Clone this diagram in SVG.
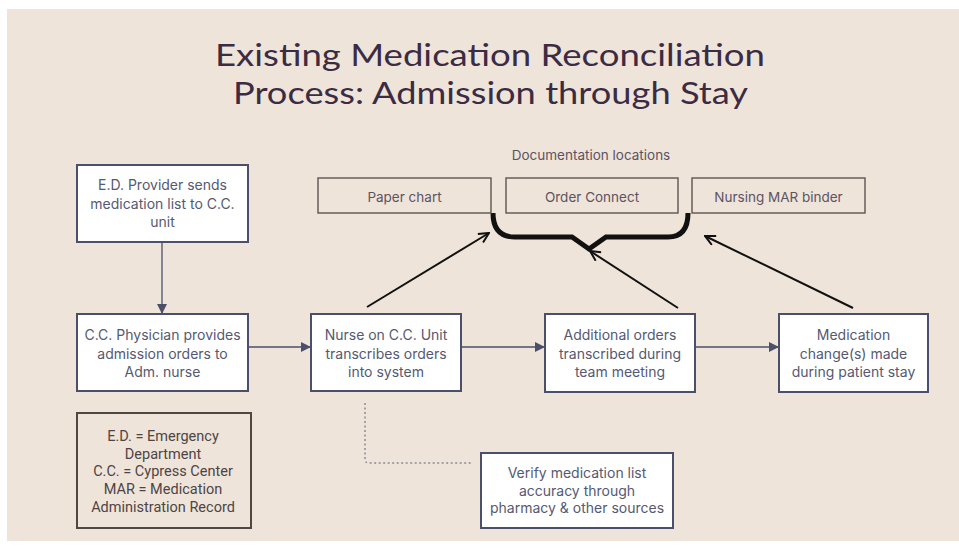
<svg xmlns="http://www.w3.org/2000/svg" width="959" height="548" viewBox="0 0 959 548">
<defs>
<style>
.bg{fill:#efe4d9}
.node{fill:#ffffff;stroke:#4b4f6b;stroke-width:2}
.doc{fill:none;stroke:#5e5552;stroke-width:1.4}
.legend{fill:none;stroke:#4f4742;stroke-width:2}
.t{font-family:Inter,"Liberation Sans",sans-serif;font-size:14px;fill:#555971;text-anchor:middle}
.td{font-family:Inter,"Liberation Sans",sans-serif;font-size:13.5px;fill:#5c5363;text-anchor:middle}
.tl{font-family:Roboto,"Liberation Sans",sans-serif;font-size:14.5px;fill:#4d4446;text-anchor:middle}
.title{font-family:Lato,"Liberation Sans",sans-serif;font-size:31px;fill:#3b2c43;text-anchor:middle}
.flow{fill:none;stroke:#4b4f6b;stroke-width:1.3}
.blk{fill:none;stroke:#111111;stroke-width:2}
</style>
<marker id="ah" viewBox="0 0 10 10" refX="9" refY="5" markerWidth="10" markerHeight="10" markerUnits="userSpaceOnUse" orient="auto">
<path d="M0,0 L10,5 L0,10 z" fill="#4b4f6b"/>
</marker>
<marker id="ob" viewBox="0 0 12 12" refX="11" refY="6" markerWidth="12" markerHeight="12" markerUnits="userSpaceOnUse" orient="auto">
<path d="M1,1 L11,6 L1,11" fill="none" stroke="#111111" stroke-width="2"/>
</marker>
</defs>
<rect x="0" y="0" width="959" height="548" fill="#ffffff"/>
<rect class="bg" x="7" y="9" width="952" height="532"/>
<g id="title">
<text class="title" x="490" y="66" textLength="550" lengthAdjust="spacingAndGlyphs">Existing Medication Reconciliation</text>
<text class="title" x="490.5" y="104" textLength="515" lengthAdjust="spacingAndGlyphs">Process: Admission through Stay</text>
</g>
<g id="connectors">
<line class="flow" x1="162" y1="242" x2="162" y2="313" marker-end="url(#ah)"/>
<line class="flow" x1="248" y1="347" x2="310" y2="347" marker-end="url(#ah)"/>
<line class="flow" x1="461" y1="347" x2="544" y2="347" marker-end="url(#ah)"/>
<line class="flow" x1="695" y1="347" x2="778" y2="347" marker-end="url(#ah)"/>
<line class="blk" x1="367" y1="307" x2="489" y2="233" marker-end="url(#ob)"/>
<line class="blk" x1="678" y1="308" x2="590" y2="251" marker-end="url(#ob)"/>
<line class="blk" x1="853" y1="308" x2="705" y2="236" marker-end="url(#ob)"/>
<path d="M365,403 V459 Q365,463 369,463 H471" fill="none" stroke="#8a8b97" stroke-width="1.5" stroke-dasharray="2,2.5"/>
</g>
<g id="brace">
<path d="M493,213 Q493,237 515,237 H572 L589,249 L606,237 H668 Q688,237 688,213" fill="none" stroke="#111111" stroke-width="5" stroke-linejoin="miter"/>
</g>
<g id="doc-label">
<text class="td" x="591" y="160">Documentation  locations</text>
</g>
<g id="doc-paper">
<rect class="doc" x="318" y="178" width="173" height="35"/>
<text class="td" x="404.5" y="202">Paper chart</text>
</g>
<g id="doc-order">
<rect class="doc" x="506" y="178" width="172" height="35"/>
<text class="td" x="592" y="202">Order Connect</text>
</g>
<g id="doc-mar">
<rect class="doc" x="692" y="178" width="173" height="35"/>
<text class="td" x="778.5" y="202">Nursing MAR binder</text>
</g>
<g id="node-ed">
<rect class="node" x="77" y="165" width="171" height="77"/>
<text class="t" x="162.5" y="190">E.D. Provider sends</text>
<text class="t" x="162.5" y="208.5">medication list to C.C.</text>
<text class="t" x="162.5" y="227">unit</text>
</g>
<g id="node-physician">
<rect class="node" x="77" y="314" width="171" height="77"/>
<text class="t" x="162.5" y="340">C.C. Physician provides</text>
<text class="t" x="162.5" y="358.5">admission orders to</text>
<text class="t" x="162.5" y="377">Adm. nurse</text>
</g>
<g id="node-nurse">
<rect class="node" x="311" y="314" width="150" height="77"/>
<text class="t" x="386" y="340">Nurse on C.C. Unit</text>
<text class="t" x="386" y="358.5">transcribes orders</text>
<text class="t" x="386" y="377">into system</text>
</g>
<g id="node-additional">
<rect class="node" x="545" y="314" width="150" height="78"/>
<text class="t" x="620" y="340">Additional orders</text>
<text class="t" x="620" y="358.5">transcribed during</text>
<text class="t" x="620" y="377">team meeting</text>
</g>
<g id="node-change">
<rect class="node" x="779" y="314" width="149" height="78"/>
<text class="t" x="853.5" y="340">Medication</text>
<text class="t" x="853.5" y="358.5">change(s) made</text>
<text class="t" x="853.5" y="377">during patient stay</text>
</g>
<g id="node-verify">
<rect class="node" x="481" y="453" width="192" height="75"/>
<text class="t" x="577" y="478">Verify medication list</text>
<text class="t" x="577" y="495.5">accuracy through</text>
<text class="t" x="577" y="513">pharmacy &amp; other sources</text>
</g>
<g id="legend">
<rect class="legend" x="77" y="413" width="174" height="115"/>
<text class="tl" x="163" y="441">E.D. = Emergency</text>
<text class="tl" x="163" y="458.5">Department</text>
<text class="tl" x="163" y="476">C.C. = Cypress Center</text>
<text class="tl" x="163" y="494">MAR = Medication</text>
<text class="tl" x="163" y="512">Administration Record</text>
</g>
</svg>
